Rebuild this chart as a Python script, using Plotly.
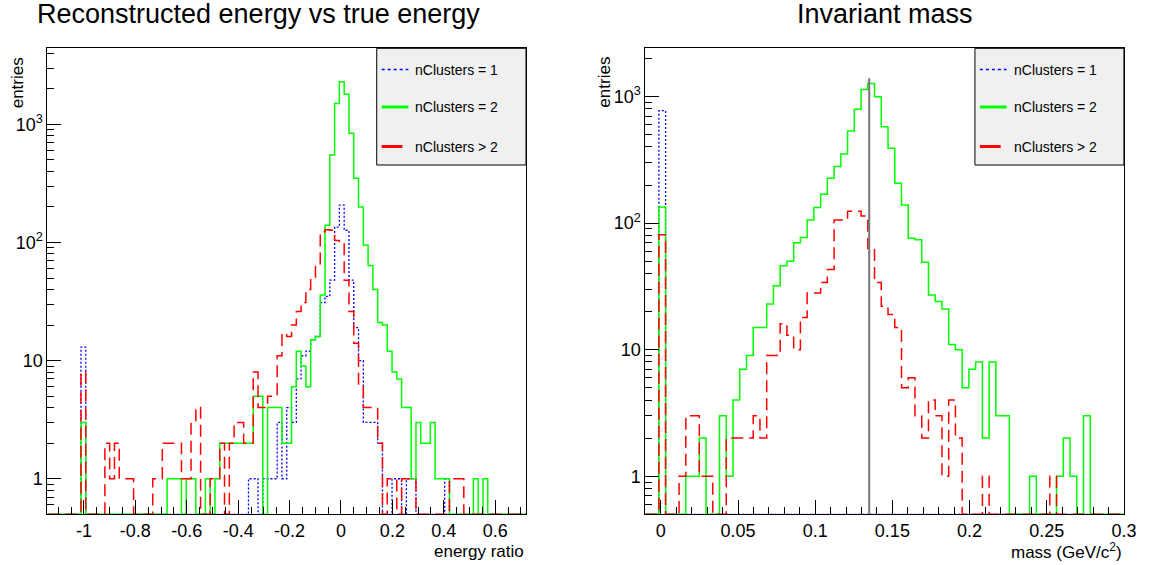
import numpy as np
import plotly.graph_objects as go

W, H = 1158, 565

# ---------------- data ----------------
series_names = ["nClusters = 1", "nClusters = 2", "nClusters > 2"]

# Left panel: (E_rec - E_true)/E_true, 100 bins
ratio_range = (-1.142, 0.72)
ratio_nbins = 100
ratio_n1 = [0, 0, 0, 0, 0, 0, 0, 13, 0, 0,
            0, 0, 0, 0, 0, 0, 0, 0, 0, 0,
            0, 0, 0, 0, 0, 0, 0, 0, 0, 0,
            0, 0, 0, 0, 0, 0, 0, 0, 0, 0,
            0, 0, 1, 1, 0, 1, 1, 1, 3, 1,
            4, 3, 7, 11, 12, 15, 16, 31, 35, 48,
            135, 207, 127, 48, 19, 10, 3, 3, 3, 2,
            0, 0, 1, 1, 0, 1, 1, 0, 0, 0,
            0, 0, 0, 1, 0, 0, 0, 0, 0, 0,
            0, 0, 0, 0, 0, 0, 0, 0, 0, 0]
ratio_n2 = [0, 0, 0, 0, 0, 0, 0, 3, 0, 0,
            0, 0, 0, 0, 0, 0, 0, 0, 0, 0,
            0, 0, 0, 0, 0, 1, 1, 1, 0, 1,
            1, 0, 0, 1, 0, 1, 2, 2, 2, 2,
            2, 2, 2, 5, 5, 0, 4, 4, 4, 2,
            2, 6, 12, 9, 6, 15, 16, 36, 140, 550,
            1500, 2300, 1800, 840, 350, 200, 95, 64, 40, 21,
            20, 12, 8, 7, 4, 4, 1, 3, 2, 2,
            3, 1, 1, 1, 0, 0, 0, 0, 0, 1,
            0, 1, 0, 0, 0, 0, 0, 0, 0, 0]
ratio_n3 = [0, 0, 0, 0, 0, 0, 0, 8, 0, 0,
            0, 0, 2, 1, 2, 1, 1, 1, 0, 0,
            0, 0, 1, 1, 2, 2, 2, 2, 1, 1,
            3, 4, 0, 0, 1, 1, 2, 0, 2, 3,
            3, 2, 2, 8, 4, 4, 5, 5, 11, 17,
            16, 20, 26, 31, 40, 51, 65, 123, 128, 127,
            104, 101, 48, 26, 14, 6, 4, 4, 4, 2,
            0, 1, 1, 0, 1, 1, 1, 0, 0, 0,
            0, 0, 0, 0, 1, 1, 1, 0, 0, 0,
            0, 0, 0, 0, 0, 0, 0, 0, 0, 0]

# Right panel: invariant mass, 71 bins
mass_range = (-0.01, 0.3)
mass_nbins = 71
mass_n1 = [0, 0, 774, 0, 0, 0, 0, 0, 0, 0,
           0, 0, 0, 0, 0, 0, 0, 0, 0, 0,
           0, 0, 0, 0, 0, 0, 0, 0, 0, 0,
           0, 0, 0, 0, 0, 0, 0, 0, 0, 0,
           0, 0, 0, 0, 0, 0, 0, 0, 0, 0,
           0, 0, 0, 0, 0, 0, 0, 0, 0, 0,
           0, 0, 0, 0, 0, 0, 0, 0, 0, 0,
           0]
mass_n2 = [0, 0, 134, 0, 0, 0, 1, 1, 2, 0,
           0, 3, 1, 4, 7, 9, 15, 15, 23, 32,
           46, 50, 70, 77, 106, 133, 169, 226, 280, 352,
           535, 795, 1140, 1270, 1000, 577, 391, 207, 139, 76,
           74, 49, 27, 24, 21, 11, 10, 5, 7, 8,
           2, 8, 3, 3, 0, 0, 0, 1, 0, 0,
           0, 1, 2, 1, 0, 3, 0, 0, 0, 0,
           0]
mass_n3 = [0, 0, 81, 0, 0, 1, 3, 3, 1, 1,
           0, 0, 2, 2, 2, 2, 3, 2, 9, 9,
           16, 13, 10, 18, 28, 28, 34, 43, 106, 106,
           124, 124, 114, 63, 34, 22, 19, 15, 5, 6,
           3, 2, 4, 3, 1, 4, 2, 0, 0, 0,
           1, 0, 0, 0, 0, 0, 0, 0, 0, 0,
           1, 0, 0, 0, 0, 0, 0, 0, 0, 0,
           0]
pi0_mass = 0.135
pi0_line_top = 1400

ratio_xticks = [-1, -0.8, -0.6, -0.4, -0.2, 0, 0.2, 0.4, 0.6]
ratio_xlabels = ["-1", "-0.8", "-0.6", "-0.4", "-0.2", "0", "0.2", "0.4", "0.6"]
mass_xticks = [0, 0.05, 0.1, 0.15, 0.2, 0.25, 0.3]
mass_xlabels = ["0", "0.05", "0.1", "0.15", "0.2", "0.25", "0.3"]
y_ticks = [1, 10, 100, 1000]
y_labels = ["1", "10", "10<sup>2</sup>", "10<sup>3</sup>"]

# ---------------- style ----------------
FONT = "Liberation Sans, Arial, Helvetica, sans-serif"
colors = ["#0000ff", "#00ff00", "#ff0000"]
dashes = ["2px,2px", "solid", "12px,6px"]
widths = [1.3, 1.5, 1.5]
YMIN = 0.5

left_px = (48, 532)
right_px = (652.7, 1136.7)
top_px, bot_px = 48.3, 514.3


def px_x(x):
    return x / W


def px_y(y):
    return 1 - y / H


def step_xy(counts, rng, nbins):
    edges = np.linspace(rng[0], rng[1], nbins + 1)
    ys = [c if c > 0 else YMIN for c in counts]  # empty bins drawn on the frame bottom
    return edges, ys + [ys[-1]]


fig = go.Figure()
for counts, c, d, w in zip([ratio_n1, ratio_n2, ratio_n3], colors, dashes, widths):
    xs, ys = step_xy(counts, ratio_range, ratio_nbins)
    fig.add_trace(go.Scatter(x=xs, y=ys, mode="lines", line_shape="hv",
                             line=dict(color=c, width=w, dash=d),
                             showlegend=False, xaxis="x", yaxis="y"))
for counts, c, d, w in zip([mass_n1, mass_n2, mass_n3], colors, dashes, widths):
    xs, ys = step_xy(counts, mass_range, mass_nbins)
    fig.add_trace(go.Scatter(x=xs, y=ys, mode="lines", line_shape="hv",
                             line=dict(color=c, width=w, dash=d),
                             showlegend=False, xaxis="x2", yaxis="y2"))
fig.add_trace(go.Scatter(x=[pi0_mass, pi0_mass], y=[YMIN, pi0_line_top], mode="lines",
                         line=dict(color="#777777", width=2), showlegend=False,
                         xaxis="x2", yaxis="y2"))

minor_y = [m * 10.0 ** k for k in range(-1, 4) for m in range(2, 10)]

axis_common = dict(showline=True, linecolor="black", linewidth=1, mirror=True,
                   ticks="inside", ticklen=14, tickwidth=1, tickcolor="black",
                   showgrid=False, zeroline=False,
                   tickfont=dict(family=FONT, size=18, color="black"))

xa1 = dict(axis_common, domain=[px_x(left_px[0]), px_x(left_px[1])], range=list(ratio_range),
           tickmode="array", tickvals=ratio_xticks, ticktext=ratio_xlabels, anchor="y",
           minor=dict(ticks="inside", ticklen=7, tickcolor="black", tickmode="array",
                      tickvals=list(np.round(np.arange(-1.1, 0.72, 0.05), 3))))
xa2 = dict(axis_common, domain=[px_x(right_px[0]), px_x(right_px[1])],
           range=list(mass_range),
           tickmode="array", tickvals=mass_xticks, ticktext=mass_xlabels, anchor="y2",
           minor=dict(ticks="inside", ticklen=7, tickcolor="black", tickmode="array",
                      tickvals=list(np.round(np.arange(-0.01, 0.301, 0.01), 3))))
ya1 = dict(axis_common, type="log", domain=[px_y(bot_px), px_y(top_px)],
           range=[np.log10(YMIN), 3.644], tickmode="array", tickvals=y_ticks, ticktext=y_labels,
           anchor="x", minor=dict(ticks="inside", ticklen=7, tickcolor="black",
                                  tickmode="array", tickvals=minor_y))
ya2 = dict(axis_common, type="log", domain=[px_y(bot_px), px_y(top_px)],
           range=[np.log10(YMIN), 3.382], tickmode="array", tickvals=y_ticks, ticktext=y_labels,
           anchor="x2", minor=dict(ticks="inside", ticklen=7, tickcolor="black",
                                   tickmode="array", tickvals=minor_y))

shapes = []
annotations = []

# panel titles
annotations.append(dict(text="Reconstructed energy vs true energy", x=px_x(261), y=1,
                        xref="paper", yref="paper", showarrow=False, xanchor="center",
                        yanchor="top", yshift=3, font=dict(family=FONT, size=27, color="black")))
annotations.append(dict(text="Invariant mass", x=px_x(895), y=1,
                        xref="paper", yref="paper", showarrow=False, xanchor="center",
                        yanchor="top", yshift=3, font=dict(family=FONT, size=27, color="black")))
# axis titles
for txt, xr in [("energy ratio", left_px[1]), ("mass (GeV/c<sup>2</sup>)", right_px[1])]:
    annotations.append(dict(text=txt, x=px_x(xr), y=px_y(551), xref="paper", yref="paper",
                            showarrow=False, xanchor="right", yanchor="middle",
                            font=dict(family=FONT, size=17, color="black")))
for xc in [18, 611]:
    annotations.append(dict(text="entries", x=px_x(xc), y=px_y(55), xref="paper", yref="paper",
                            showarrow=False, xanchor="center", yanchor="top", textangle=-90,
                            font=dict(family=FONT, size=17, color="black")))

# legends
for (x0, x1) in [(381, 532), (986, 1136.7)]:
    shapes.append(dict(type="rect", xref="paper", yref="paper", x0=px_x(x0), x1=px_x(x1),
                       y0=px_y(165), y1=px_y(48.3), fillcolor="#f0f0f0",
                       line=dict(color="black", width=1), layer="above"))
    rows_y = [69.5, 107, 146.5]
    line_ends = [x0 + 32, x0 + 32, x0 + 26]
    lw = [1.5, 3, 3]
    ld = ["dot", "solid", "solid"]
    for name, c, yy, xe, w_, d_ in zip(series_names, colors, rows_y, line_ends, lw, ld):
        shapes.append(dict(type="line", xref="paper", yref="paper", x0=px_x(x0 + 5),
                           x1=px_x(xe), y0=px_y(yy), y1=px_y(yy),
                           line=dict(color=c, width=w_, dash=d_), layer="above"))
        annotations.append(dict(text=name, x=px_x(x0 + 37), y=px_y(yy), xref="paper",
                                yref="paper", showarrow=False, xanchor="left",
                                yanchor="middle",
                                font=dict(family=FONT, size=14, color="black")))

fig.update_layout(width=W, height=H, autosize=False,
                  margin=dict(l=0, r=0, t=0, b=0),
                  paper_bgcolor="white", plot_bgcolor="white",
                  xaxis=xa1, yaxis=ya1, xaxis2=xa2, yaxis2=ya2,
                  shapes=shapes, annotations=annotations,
                  font=dict(family=FONT, color="black"))

fig.write_html("out.html")
